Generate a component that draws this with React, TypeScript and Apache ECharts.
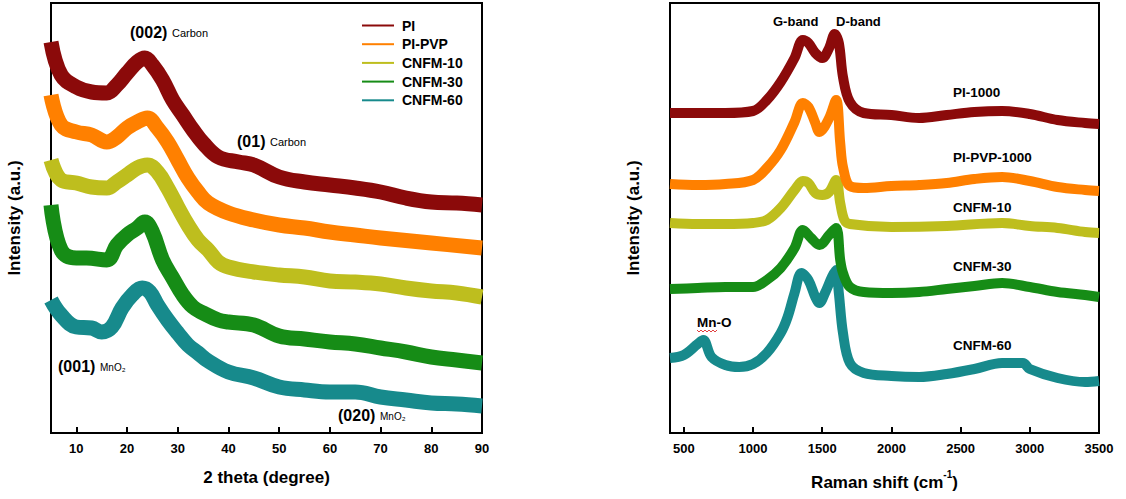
import React, { useEffect, useRef } from "react";
import * as echarts from "echarts";

const FONT = '"Liberation Sans", Arial, sans-serif';

// ---------- XRD (left panel) ----------
const xrdNames = ["PI", "PI-PVP", "CNFM-10", "CNFM-30", "CNFM-60"];
const xrdColors = ["#8B0A0A", "#FF8000", "#BEBE1E", "#168C16", "#178A8C"];

const xrdThetaPI = [5, 7, 10, 13, 16, 18, 20, 22, 23.5, 25, 27, 29, 31, 33, 35, 38, 42, 45, 50, 55, 60, 65, 70, 75, 80, 85, 90];
const xrdIntPI = [391, 358, 346, 341, 340, 348, 360, 371, 375, 368, 353, 333, 318, 303, 290, 276, 271, 268, 256, 251, 248, 245, 241, 235, 231, 230, 228];

const xrdThetaPVP = [5, 7, 10, 13, 16, 18, 20, 22, 24, 26, 28, 30, 32, 34, 36, 40, 45, 50, 55, 60, 65, 70, 80, 90];
const xrdIntPVP = [338, 308, 301, 298, 291, 296, 305, 311, 315, 305, 291, 273, 255, 241, 230, 220, 213, 208, 205, 201, 198, 195, 190, 185];

const xrdThetaC10 = [5, 7, 10, 13, 16, 18, 20, 22, 24, 26, 28, 30, 32, 34, 36, 38, 40, 45, 50, 55, 60, 65, 70, 75, 80, 85, 90];
const xrdIntC10 = [273, 253, 250, 246, 245, 251, 258, 265, 268, 261, 245, 226, 208, 193, 183, 171, 166, 161, 158, 156, 152, 151, 149, 145, 142, 140, 136];

const xrdThetaC30 = [5, 7, 10, 12, 16, 18, 20, 22, 23.5, 25, 27, 29, 31, 33, 35, 38, 40, 45, 50, 55, 60, 65, 70, 75, 80, 85, 90];
const xrdIntC30 = [228, 183, 175, 175, 173, 188, 198, 205, 211, 201, 173, 155, 138, 126, 120, 113, 111, 108, 97, 94, 91, 89, 85, 81, 76, 73, 70];

const xrdThetaC60 = [5, 7, 10, 13, 15, 17, 19, 21, 23, 24.5, 26, 28, 30, 32, 34, 36, 40, 45, 50, 55, 60, 65, 70, 75, 80, 85, 90];
const xrdIntC60 = [133, 118, 106, 105, 101, 106, 125, 138, 145, 141, 128, 113, 100, 88, 80, 72, 61, 55, 46, 43, 41, 41, 36, 33, 30, 29, 27];

const xrdX = [xrdThetaPI, xrdThetaPVP, xrdThetaC10, xrdThetaC30, xrdThetaC60];
const xrdY = [xrdIntPI, xrdIntPVP, xrdIntC10, xrdIntC30, xrdIntC60];

// ---------- Raman (right panel) ----------
const ramanNames = ["PI-1000", "PI-PVP-1000", "CNFM-10 ", "CNFM-30 ", "CNFM-60 "];

const ramanShiftPI = [400, 600, 800, 1000, 1100, 1200, 1300, 1360, 1400, 1450, 1500, 1550, 1590, 1620, 1650, 1700, 1800, 2000, 2200, 2400, 2600, 2800, 3000, 3200, 3400, 3500];
const ramanIntPI = [320, 320, 320, 322, 333, 351, 375, 393, 390, 380, 375, 385, 399, 390, 356, 331, 320, 318, 315, 318, 321, 322, 319, 313, 310, 309];

const ramanShiftPVP = [400, 600, 800, 1000, 1100, 1200, 1300, 1360, 1400, 1450, 1480, 1550, 1600, 1630, 1650, 1700, 1800, 2000, 2200, 2400, 2600, 2800, 3000, 3200, 3400, 3500];
const ramanIntPVP = [249, 248, 249, 253, 265, 283, 311, 330, 326, 310, 301, 315, 333, 290, 266, 247, 245, 247, 248, 250, 254, 256, 252, 246, 243, 242];

const ramanShiftC10 = [400, 600, 800, 1000, 1100, 1200, 1300, 1360, 1400, 1450, 1500, 1550, 1600, 1630, 1660, 1700, 2000, 2400, 2800, 3000, 3200, 3400, 3500];
const ramanIntC10 = [210, 209, 209, 210, 213, 225, 243, 252, 250, 240, 238, 241, 253, 230, 213, 209, 206, 207, 210, 207, 205, 201, 200];

const ramanShiftC30 = [400, 600, 800, 1000, 1100, 1200, 1300, 1360, 1420, 1480, 1550, 1600, 1630, 1650, 1700, 1800, 2000, 2200, 2400, 2600, 2800, 3000, 3200, 3400, 3500];
const ramanIntC30 = [144, 145, 146, 146, 153, 165, 185, 203, 195, 188, 198, 205, 173, 160, 146, 141, 140, 141, 144, 147, 150, 146, 141, 138, 136];

const ramanShiftC60 = [400, 500, 600, 640, 700, 800, 900, 1000, 1100, 1200, 1250, 1300, 1350, 1400, 1450, 1480, 1520, 1570, 1600, 1620, 1650, 1700, 1800, 2000, 2200, 2400, 2600, 2800, 2950, 3000, 3200, 3400, 3500];
const ramanIntC60 = [75, 78, 89, 93, 76, 68, 66, 69, 80, 100, 116, 140, 160, 153, 136, 130, 140, 156, 163, 140, 100, 70, 60, 57, 56, 59, 64, 70, 70, 64, 55, 51, 52];

const ramanX = [ramanShiftPI, ramanShiftPVP, ramanShiftC10, ramanShiftC30, ramanShiftC60];
const ramanY = [ramanIntPI, ramanIntPVP, ramanIntC10, ramanIntC30, ramanIntC60];

const zip = (xs: number[], ys: number[]) => xs.map((x, i) => [x, ys[i]]);

function makeX(gridIndex: number, min: number, max: number, split: number, name: any) {
  return {
    type: "value",
    gridIndex,
    min,
    max,
    splitNumber: split,
    axisLine: { show: true, onZero: false, lineStyle: { color: "#000", width: 2 } },
    axisTick: { show: true, inside: true, length: 6, lineStyle: { color: "#000", width: 2 } },
    splitLine: { show: false },
    axisLabel: {
      showMinLabel: false,
      color: "#000",
      fontWeight: "bold",
      fontSize: 13,
      fontFamily: FONT,
      margin: 9,
      formatter: (v: number) => String(v),
    },
    name,
    nameLocation: "middle",
    nameGap: 36,
    nameTextStyle: {
      color: "#000",
      fontWeight: "bold",
      fontSize: 17,
      fontFamily: FONT,
      rich: {
        m: { color: "#000", fontWeight: "bold", fontSize: 17, fontFamily: FONT, lineHeight: 22, verticalAlign: "bottom" },
        s: { color: "#000", fontWeight: "bold", fontSize: 10, fontFamily: FONT, lineHeight: 22, verticalAlign: "top" },
      },
    },
  };
}

function makeY(gridIndex: number) {
  return {
    type: "value",
    gridIndex,
    min: 0,
    max: 430,
    axisLine: { show: true, lineStyle: { color: "#000", width: 2 } },
    axisTick: { show: false },
    axisLabel: { show: false },
    splitLine: { show: false },
    name: "Intensity (a.u.)",
    nameLocation: "middle",
    nameGap: 28,
    nameRotate: 90,
    nameTextStyle: { color: "#000", fontWeight: "bold", fontSize: 17, fontFamily: FONT },
  };
}

function txt(x: number, y: number, text: string, size: number, bold = true, color = "#000") {
  return {
    type: "text",
    x,
    y,
    style: {
      text,
      fill: color,
      fontSize: size,
      fontWeight: bold ? "bold" : "normal",
      fontFamily: FONT,
      verticalAlign: "middle",
      align: "left",
    },
  };
}

export default function App() {
  const ref = useRef<HTMLDivElement>(null);
  useEffect(() => {
    if (!ref.current) return;
    const chart = echarts.init(ref.current, null, { renderer: "svg" });

    const series: any[] = [];
    xrdNames.forEach((n, i) => {
      series.push({
        name: n,
        type: "line",
        xAxisIndex: 0,
        yAxisIndex: 0,
        data: zip(xrdX[i], xrdY[i]),
        symbol: "none",
        smooth: 0.4,
        lineStyle: { color: xrdColors[i], width: 15, join: "round" },
        itemStyle: { color: xrdColors[i] },
        z: 10 - i,
      });
    });
    ramanNames.forEach((n, i) => {
      series.push({
        name: n,
        type: "line",
        xAxisIndex: 1,
        yAxisIndex: 1,
        data: zip(ramanX[i], ramanY[i]),
        symbol: "none",
        smooth: 0.35,
        lineStyle: { color: xrdColors[i], width: 10, join: "round" },
        itemStyle: { color: xrdColors[i] },
        z: 10 - i,
      });
    });

    const wave: number[][] = [];
    for (let k = 0; k <= 10; k++) wave.push([697 + k * 2, k % 2 === 0 ? 330 : 332]);

    chart.setOption({
      animation: false,
      backgroundColor: "#fff",
      grid: [
        { left: 51, top: 3, width: 431, height: 430, show: true, borderColor: "#000", borderWidth: 2 },
        { left: 670, top: 3, width: 429, height: 430, show: true, borderColor: "#000", borderWidth: 2 },
      ],
      xAxis: [
        makeX(0, 5, 90, 9, "2 theta (degree)"),
        makeX(1, 400, 3500, 7, "{m|Raman shift (cm}{s|-1}{m|)}"),
      ],
      yAxis: [makeY(0), makeY(1)],
      legend: {
        data: xrdNames,
        orient: "vertical",
        left: 362,
        top: 18.5,
        padding: 0,
        icon: "rect",
        itemWidth: 32,
        itemHeight: 2,
        itemGap: 4.7,
        textStyle: { color: "#000", fontWeight: "bold", fontSize: 14, lineHeight: 14, fontFamily: FONT, padding: [0, 0, 0, 3] },
      },
      graphic: [
        txt(130, 32, "(002)", 16),
        txt(172, 33, "Carbon", 11, false),
        txt(237, 141, "(01)", 16),
        txt(270, 142, "Carbon", 11, false),
        txt(58, 366, "(001)", 16),
        txt(100, 367, "MnO₂", 10, false),
        txt(338, 415, "(020)", 16),
        txt(380, 416, "MnO₂", 10, false),
        txt(773, 21, "G-band", 13),
        txt(836, 21, "D-band", 13),
        txt(953, 92, "PI-1000", 13.5),
        txt(953, 157, "PI-PVP-1000", 13.5),
        txt(953, 207, "CNFM-10", 13.5),
        txt(953, 266, "CNFM-30", 13.5),
        txt(953, 345, "CNFM-60", 13.5),
        txt(697, 322, "Mn-O", 13.5),
        { type: "polyline", shape: { points: wave }, style: { stroke: "#E04040", lineWidth: 1, fill: null } },
      ],
      series,
    });
    return () => chart.dispose();
  }, []);
  return <div ref={ref} style={{ position: "absolute", left: 0, top: 0, width: 1126, height: 499 }} />;
}
